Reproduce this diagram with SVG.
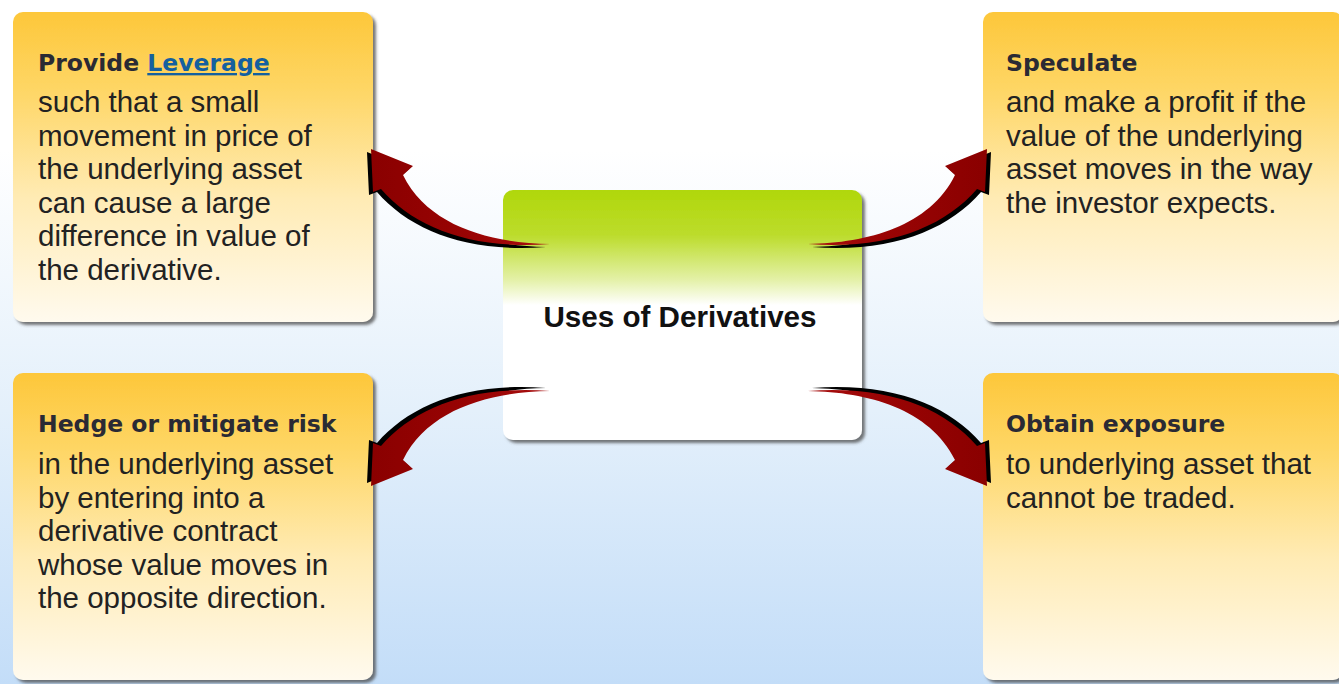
<svg xmlns="http://www.w3.org/2000/svg" xmlns:xlink="http://www.w3.org/1999/xlink" width="1339" height="684" viewBox="0 0 1339 684">
  <defs>
    <linearGradient id="bg" x1="0" y1="0" x2="0" y2="1">
      <stop offset="0" stop-color="#ffffff"/>
      <stop offset="0.22" stop-color="#ffffff"/>
      <stop offset="0.6" stop-color="#e4f0fb"/>
      <stop offset="1" stop-color="#c3ddf8"/>
    </linearGradient>
    <linearGradient id="card" x1="0" y1="0" x2="0" y2="1">
      <stop offset="0" stop-color="#fdc73a"/>
      <stop offset="0.25" stop-color="#fed665"/>
      <stop offset="0.6" stop-color="#ffebb4"/>
      <stop offset="1" stop-color="#fffaee"/>
    </linearGradient>
    <linearGradient id="hub" x1="0" y1="0" x2="0" y2="1">
      <stop offset="0" stop-color="#b0d70a"/>
      <stop offset="0.18" stop-color="#bcdc2c"/>
      <stop offset="0.36" stop-color="#e4f1a8"/>
      <stop offset="0.46" stop-color="#ffffff"/>
      <stop offset="1" stop-color="#ffffff"/>
    </linearGradient>
    <linearGradient id="redFill" x1="0" y1="0" x2="1" y2="0">
      <stop offset="0" stop-color="#8a0000"/>
      <stop offset="0.6" stop-color="#9a0404"/>
      <stop offset="1" stop-color="#a81010"/>
    </linearGradient>
    <filter id="shade" x="-5%" y="-5%" width="112%" height="112%">
      <feDropShadow dx="3" dy="3" stdDeviation="1.8" flood-color="#4a4a4a" flood-opacity="0.75"/>
    </filter>
    <!-- curved arrow, drawn once, mirrored for the other three corners -->
    <g id="curveArrow">
      <path transform="translate(-4,3)" fill="#000" d="M550,244 C490,243 428,226 403,175 L413,166 L371,149 L373,192 L381,189 C414,227 470,250 550,244 Z"/>
      <path fill="url(#redFill)" d="M550,244 C490,243 428,226 403,175 L413,166 L371,149 L373,192 L381,189 C414,227 470,250 550,244 Z"/>
    </g>
  </defs>

  <style>
    .title { font-family: "DejaVu Sans", Verdana, sans-serif; font-weight: bold; font-size: 23.5px; fill: #2a2a34; }
    .body { font-family: "Liberation Sans", Arial, sans-serif; font-size: 29.5px; fill: #222222; }
    .link { fill: #14609f; text-decoration: underline; }
    .hubText { font-family: "Liberation Sans", Arial, sans-serif; font-weight: bold; font-size: 29.6px; fill: #111111; }
    .card { fill: url(#card); filter: url(#shade); }
  </style>

  <rect x="0" y="0" width="1339" height="684" fill="url(#bg)"/>

  <g id="leverage">
    <rect class="card" x="13" y="12" width="360" height="310" rx="10"/>
    <text class="title" x="38" y="71">Provide <tspan class="link">Leverage</tspan></text>
    <text class="body" x="38" y="112">such that a small</text>
    <text class="body" x="38" y="145.5">movement in price of</text>
    <text class="body" x="38" y="179">the underlying asset</text>
    <text class="body" x="38" y="212.5">can cause a large</text>
    <text class="body" x="38" y="246">difference in value of</text>
    <text class="body" x="38" y="279.5">the derivative.</text>
  </g>

  <g id="speculate">
    <rect class="card" x="983" y="12" width="360" height="310" rx="10"/>
    <text class="title" x="1006" y="71">Speculate</text>
    <text class="body" x="1006" y="112">and make a profit if the</text>
    <text class="body" x="1006" y="145.5">value of the underlying</text>
    <text class="body" x="1006" y="179">asset moves in the way</text>
    <text class="body" x="1006" y="212.5">the investor expects.</text>
  </g>

  <g id="hedge">
    <rect class="card" x="13" y="373" width="360" height="307" rx="10"/>
    <text class="title" x="38" y="432">Hedge or mitigate risk</text>
    <text class="body" x="38" y="474">in the underlying asset</text>
    <text class="body" x="38" y="507.5">by entering into a</text>
    <text class="body" x="38" y="541">derivative contract</text>
    <text class="body" x="38" y="574.5">whose value moves in</text>
    <text class="body" x="38" y="608">the opposite direction.</text>
  </g>

  <g id="exposure">
    <rect class="card" x="983" y="373" width="360" height="307" rx="10"/>
    <text class="title" x="1006" y="432">Obtain exposure</text>
    <text class="body" x="1006" y="474">to underlying asset that</text>
    <text class="body" x="1006" y="507.5">cannot be traded.</text>
  </g>

  <g id="uses-of-derivatives">
    <rect x="503" y="190" width="359" height="250" rx="10" fill="url(#hub)" filter="url(#shade)"/>
    <text class="hubText" x="680" y="327" text-anchor="middle">Uses of Derivatives</text>
  </g>

  <g id="connectors">
    <use xlink:href="#curveArrow"/>
    <use xlink:href="#curveArrow" transform="translate(1358,0) scale(-1,1)"/>
    <use xlink:href="#curveArrow" transform="translate(0,635) scale(1,-1)"/>
    <use xlink:href="#curveArrow" transform="translate(1358,635) scale(-1,-1)"/>
  </g>
</svg>
